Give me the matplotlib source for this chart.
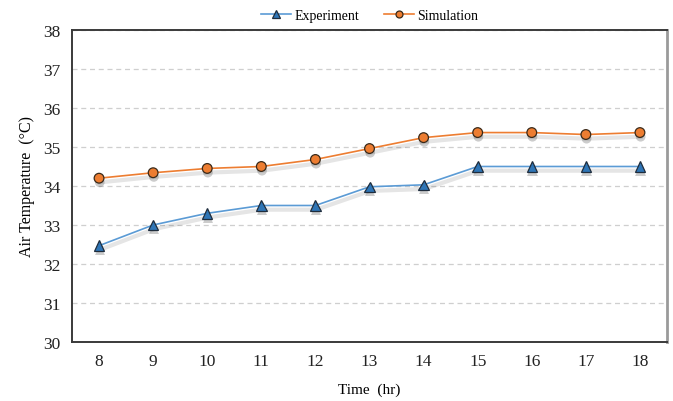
import matplotlib
matplotlib.use("Agg")
import matplotlib.pyplot as plt
import matplotlib.patheffects as pe
from matplotlib.lines import Line2D

hours = [8, 9, 10, 11, 12, 13, 14, 15, 16, 17, 18]
experiment = [32.47, 33.0, 33.3, 33.5, 33.5, 33.98, 34.03, 34.5, 34.5, 34.5, 34.5]
simulation = [34.2, 34.34, 34.45, 34.5, 34.68, 34.96, 35.24, 35.37, 35.37, 35.32, 35.37]
yticks = [30, 31, 32, 33, 34, 35, 36, 37, 38]

serif = ["Liberation Serif", "DejaVu Serif"]

fig = plt.figure(figsize=(6.73, 4.02), dpi=100)
ax = fig.add_axes([72/673, 1 - 343/402, (667-72)/673, (343-31)/402])

x = list(range(len(hours)))
line_shadow = [pe.SimpleLineShadow(offset=(0.5, -3), alpha=0.1, shadow_color="black", linewidth=3), pe.Normal()]
mark_shadow = [pe.SimplePatchShadow(offset=(0.5, -3), alpha=0.2, shadow_rgbFace="black"), pe.Normal()]

exp_style = dict(color="#5B9BD5", lw=1.2)
exp_mark = dict(marker="^", markersize=7.5, markerfacecolor="#2E75B6",
                markeredgecolor="#1F2D3D", markeredgewidth=0.9)
sim_style = dict(color="#ED7D31", lw=1.2)
sim_mark = dict(marker="o", markersize=7, markerfacecolor="#ED7D31",
                markeredgecolor="#3A2A1A", markeredgewidth=0.9)

ax.plot(x, experiment, path_effects=line_shadow, zorder=3, **exp_style)
ax.plot(x, experiment, linestyle="none", path_effects=mark_shadow, zorder=4, **exp_mark)
ax.plot(x, simulation, path_effects=line_shadow, zorder=3, **sim_style)
ax.plot(x, simulation, linestyle="none", path_effects=mark_shadow, zorder=4, **sim_mark)

ax.set_xlim(-0.5, len(hours) - 0.5)
ax.set_ylim(30, 38)
ax.set_xticks(x)
ax.set_xticklabels([str(h) for h in hours])
ax.set_yticks(yticks)
ax.set_yticklabels([str(v) for v in yticks])
ax.tick_params(axis="both", length=0, labelsize=12.5, pad=8, colors="#222222")
for lab in ax.get_xticklabels() + ax.get_yticklabels():
    lab.set_fontfamily(serif)

ax.grid(axis="y", color="#CFCFCF", linestyle=(0, (4, 3)), lw=0.9)
ax.set_axisbelow(True)

for s in ["left", "bottom", "top"]:
    ax.spines[s].set_color("#3A3A3A")
    ax.spines[s].set_linewidth(1.4)
ax.spines["right"].set_color("#9A9A9A")
ax.spines["right"].set_linewidth(2)

ax.set_xlabel("Time  (hr)", fontsize=11, family=serif, labelpad=10)
ax.set_ylabel("Air Temperature  (\u00b0C)", fontsize=11.5, family=serif, labelpad=6)

handles = [Line2D([], [], **exp_style, **{**exp_mark, "markersize": 5.5}),
           Line2D([], [], **sim_style, **{**sim_mark, "markersize": 5})]
ax.legend(handles, ["Experiment", "Simulation"], loc="lower center",
          bbox_to_anchor=(0.5, 1.0), ncol=2, frameon=False,
          prop={"family": serif, "size": 10}, handlelength=2.2,
          columnspacing=1.8, handletextpad=0.2, borderaxespad=0.2)

fig.savefig("out.png", dpi=100, facecolor="white")
